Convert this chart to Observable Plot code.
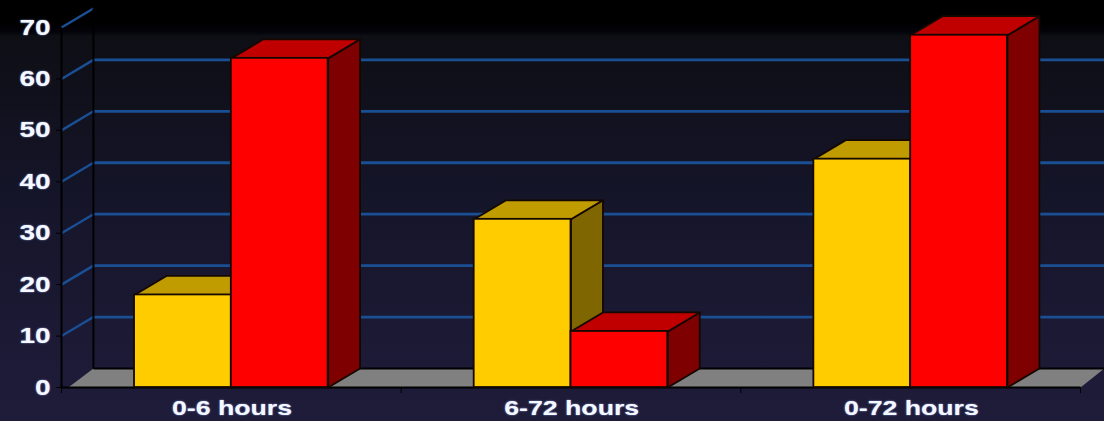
<!DOCTYPE html>
<html>
<head>
<meta charset="utf-8">
<script src="https://cdn.jsdelivr.net/npm/d3@7"></script>
<script src="https://cdn.jsdelivr.net/npm/@observablehq/plot@0.6"></script>
<style>
  html, body { margin: 0; padding: 0; background: #1f1c3a; overflow: hidden; }
  svg { display: block; }
  svg text { text-shadow: 0 0 1.5px #9db8ff; }
</style>
</head>
<body>
<script>
// Onset windows and the two series plotted for each
const categories = ["0-6 hours", "6-72 hours", "0-72 hours"];
const yellowSeries = [18, 32.7, 44.4];
const redSeries = [64, 10.9, 68.5];
const yTicks = [0, 10, 20, 30, 40, 50, 60, 70];

// Fake-3D extrusion, expressed in scale units
const depthX = 0.094;
const depthY = 3.7;
const gap = 0.215;
const barWidth = (1 - 2 * gap) / 2;
const gridEnd = 3.0706;

const polygon = (pts) => pts.map(([x, y]) => ({x, y}));
const face = (pts, fill, stroke = "#140800") =>
  Plot.line(polygon(pts), {x: "x", y: "y", fill, stroke, strokeWidth: 1.8, curve: "linear-closed"});

// One extruded column: side, top, then the front face
function column(left, value, front, top, side) {
  const right = left + barWidth;
  return [
    face([[right, 0], [right + depthX, depthY], [right + depthX, value + depthY], [right, value]], side),
    face([[left, value], [left + depthX, value + depthY], [right + depthX, value + depthY], [right, value]], top),
    Plot.rect([{x1: left, x2: right, y1: 0, y2: value}], {
      x1: "x1", x2: "x2", y1: "y1", y2: "y2", fill: front, stroke: "#140800", strokeWidth: 1.8
    })
  ];
}

const gridTicks = yTicks.filter((t) => t > 0);
const grid = "#1a4f94";

const marks = [
  // Side wall diagonals and back wall grid lines
  Plot.link(gridTicks, {x1: 0, x2: depthX, y1: (d) => d, y2: (d) => d + depthY, stroke: grid, strokeWidth: 2.4}),
  Plot.link(gridTicks.filter((t) => t < 70), {
    x1: depthX, x2: gridEnd, y1: (d) => d + depthY, y2: (d) => d + depthY, stroke: grid, strokeWidth: 2.8
  }),
  // Floor
  face([[0.02, 0], [depthX, depthY], [gridEnd, depthY], [3, 0]], "#808080", "none"),
  Plot.link([depthY], {x1: depthX, x2: gridEnd, y1: (d) => d, y2: (d) => d, stroke: "#000", strokeWidth: 2}),
  // Wall edges
  Plot.link([0], {x1: 0, x2: 0, y1: 0, y2: 70, stroke: "#000", strokeWidth: 2}),
  Plot.link([0], {x1: depthX, x2: depthX, y1: depthY, y2: 70 + depthY, stroke: "#000", strokeWidth: 2}),
  Plot.link([0], {x1: 0, x2: 3, y1: 0, y2: 0, stroke: "#000", strokeWidth: 2}),
  // Columns, drawn left to right so each red one overlaps its yellow neighbour
  categories.map((_, i) => [
    column(i + gap, yellowSeries[i], "#ffcc00", "#c09c00", "#806600"),
    column(i + gap + barWidth, redSeries[i], "#ff0000", "#c00000", "#7e0000")
  ]),
  // Axes
  Plot.axisY({
    ticks: yTicks, tickSize: 5, tickPadding: 6, stroke: "#000", fill: "#f6f8ff",
    fontSize: 22, fontWeight: "bold", fontFamily: "Liberation Sans", label: null
  }),
  Plot.axisX({ticks: [0, 1, 2, 3], tickSize: 6, stroke: "#000", tickFormat: () => "", label: null}),
  Plot.text(categories, {
    x: (_, i) => i + 0.502, y: 0, dy: 21, text: (d) => d, fill: "#f6f8ff",
    fontSize: 21, fontWeight: "bold", fontFamily: "Liberation Sans"
  })
];

const chart = Plot.plot({
  width: 1104,
  height: 421,
  marginLeft: 61,
  marginRight: 24,
  marginTop: 27,
  marginBottom: 34,
  x: {type: "linear", domain: [0, 3], axis: null},
  y: {domain: [0, 70], axis: null},
  style: {
    background: "linear-gradient(#000 0, #000 22px, #03030a 32px, #0e0e15 36px, #15152a 200px, #1f1c3a 421px)",
    overflow: "hidden"
  },
  marks
});
document.body.append(chart);

// The lettering is set wide: stretch each label's glyphs horizontally
chart.querySelectorAll("text").forEach((t) => {
  const w = t.getComputedTextLength();
  if (w > 0) {
    t.setAttribute("textLength", (w * 1.27).toFixed(1));
    t.setAttribute("lengthAdjust", "spacingAndGlyphs");
  }
});
</script>
</body>
</html>
